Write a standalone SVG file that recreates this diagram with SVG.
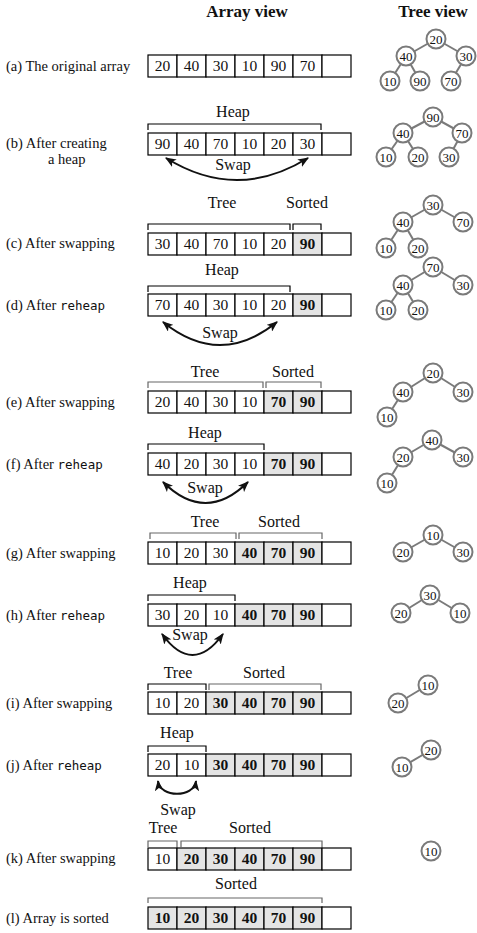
<svg xmlns="http://www.w3.org/2000/svg" width="477" height="933" viewBox="0 0 477 933" font-family="'Liberation Serif', 'DejaVu Serif', serif">
<style>
text{font-family:'Liberation Serif','DejaVu Serif',serif}
.bg{fill:#fff}
.cell{fill:#fff;stroke:#000;stroke-width:1.2}
.s{fill:#e4e4e4}
.v{font-size:15.5px;text-anchor:middle;fill:#111}
.b{font-weight:bold}
.lbl{font-size:14.5px;fill:#111}
.mono{font-family:'DejaVu Sans Mono',monospace;font-size:12.5px}
.hd{font-size:17px;font-weight:bold;text-anchor:middle;fill:#111}
.br{fill:none;stroke:#000;stroke-width:1.2}
.gb{stroke:#666}
.bt{font-size:16px;text-anchor:middle;fill:#111}
.edge{stroke:#7a7a7a;stroke-width:2}
.node circle{fill:#fff;stroke:#7a7a7a;stroke-width:2}
.node text{font-size:13px;text-anchor:middle;fill:#111}
.swap{fill:none;stroke:#111;stroke-width:2;marker-start:url(#ah);marker-end:url(#ah)}
</style>
<defs>
<marker id="ah" viewBox="0 0 10 8" refX="9" refY="4" markerWidth="11" markerHeight="9" markerUnits="userSpaceOnUse" orient="auto-start-reverse"><path d="M0,0 L10,4 L0,8 L2.5,4 z" fill="#111"/></marker>
</defs>
<rect class="bg" x="0" y="0" width="477" height="933"/>

<g id="headers">
<text class="hd" x="247" y="17">Array view</text>
<text class="hd" x="433" y="17">Tree view</text>
</g>

<!-- Row a -->
<g id="label-a"><text class="lbl" x="6" y="71">(a) The original array</text></g>
<g id="array-a">
<rect class="cell" x="148" y="55" width="29" height="22"/><rect class="cell" x="177" y="55" width="29" height="22"/><rect class="cell" x="206" y="55" width="29" height="22"/><rect class="cell" x="235" y="55" width="29" height="22"/><rect class="cell" x="264" y="55" width="29" height="22"/><rect class="cell" x="293" y="55" width="29" height="22"/><rect class="cell" x="322" y="55" width="29" height="22"/>
<text class="v" x="162.5" y="71">20</text><text class="v" x="191.5" y="71">40</text><text class="v" x="220.5" y="71">30</text><text class="v" x="249.5" y="71">10</text><text class="v" x="278.5" y="71">90</text><text class="v" x="307.5" y="71">70</text>
</g>

<!-- Row b -->
<g id="label-b"><text class="lbl" x="6" y="148">(b) After creating</text><text class="lbl" x="48" y="164">a heap</text></g>
<g id="bracket-b"><text class="bt" x="233" y="117">Heap</text><path class="br" d="M148,130 V124 H321 V130"/></g>
<g id="array-b">
<rect class="cell" x="148" y="133" width="29" height="22"/><rect class="cell" x="177" y="133" width="29" height="22"/><rect class="cell" x="206" y="133" width="29" height="22"/><rect class="cell" x="235" y="133" width="29" height="22"/><rect class="cell" x="264" y="133" width="29" height="22"/><rect class="cell" x="293" y="133" width="29" height="22"/><rect class="cell" x="322" y="133" width="29" height="22"/>
<text class="v" x="162.5" y="149">90</text><text class="v" x="191.5" y="149">40</text><text class="v" x="220.5" y="149">70</text><text class="v" x="249.5" y="149">10</text><text class="v" x="278.5" y="149">20</text><text class="v" x="307.5" y="149">30</text>
</g>
<g id="swaplabel-b"><text class="bt" x="233" y="170">Swap</text></g>

<!-- Row c -->
<g id="label-c"><text class="lbl" x="6" y="248">(c) After swapping</text></g>
<g id="bracket-c"><text class="bt" x="222" y="208">Tree</text><text class="bt" x="307" y="208">Sorted</text><path class="br" d="M148,230 V224 H290 V230"/><path class="br" d="M293,230 V224 H321 V230"/></g>
<g id="array-c">
<rect class="cell" x="148" y="233" width="29" height="22"/><rect class="cell" x="177" y="233" width="29" height="22"/><rect class="cell" x="206" y="233" width="29" height="22"/><rect class="cell" x="235" y="233" width="29" height="22"/><rect class="cell" x="264" y="233" width="29" height="22"/><rect class="cell s" x="293" y="233" width="29" height="22"/><rect class="cell" x="322" y="233" width="29" height="22"/>
<text class="v" x="162.5" y="249">30</text><text class="v" x="191.5" y="249">40</text><text class="v" x="220.5" y="249">70</text><text class="v" x="249.5" y="249">10</text><text class="v" x="278.5" y="249">20</text><text class="v b" x="307.5" y="249">90</text>
</g>

<!-- Row d -->
<g id="label-d"><text class="lbl" x="6" y="310">(d) After <tspan class="mono">reheap</tspan></text></g>
<g id="bracket-d"><text class="bt" x="222" y="275">Heap</text><path class="br" d="M148,292 V286 H290 V292"/></g>
<g id="array-d">
<rect class="cell" x="148" y="294" width="29" height="22"/><rect class="cell" x="177" y="294" width="29" height="22"/><rect class="cell" x="206" y="294" width="29" height="22"/><rect class="cell" x="235" y="294" width="29" height="22"/><rect class="cell" x="264" y="294" width="29" height="22"/><rect class="cell s" x="293" y="294" width="29" height="22"/><rect class="cell" x="322" y="294" width="29" height="22"/>
<text class="v" x="162.5" y="310">70</text><text class="v" x="191.5" y="310">40</text><text class="v" x="220.5" y="310">30</text><text class="v" x="249.5" y="310">10</text><text class="v" x="278.5" y="310">20</text><text class="v b" x="307.5" y="310">90</text>
</g>
<g id="swaplabel-d"><text class="bt" x="220" y="338">Swap</text></g>

<!-- Row e -->
<g id="label-e"><text class="lbl" x="6" y="407">(e) After swapping</text></g>
<g id="bracket-e"><text class="bt" x="205" y="377">Tree</text><text class="bt" x="293" y="377">Sorted</text><path class="br gb" d="M148,388 V382 H263 V388"/><path class="br gb" d="M266,388 V382 H321 V388"/></g>
<g id="array-e">
<rect class="cell" x="148" y="391" width="29" height="22"/><rect class="cell" x="177" y="391" width="29" height="22"/><rect class="cell" x="206" y="391" width="29" height="22"/><rect class="cell" x="235" y="391" width="29" height="22"/><rect class="cell s" x="264" y="391" width="29" height="22"/><rect class="cell s" x="293" y="391" width="29" height="22"/><rect class="cell" x="322" y="391" width="29" height="22"/>
<text class="v" x="162.5" y="407">20</text><text class="v" x="191.5" y="407">40</text><text class="v" x="220.5" y="407">30</text><text class="v" x="249.5" y="407">10</text><text class="v b" x="278.5" y="407">70</text><text class="v b" x="307.5" y="407">90</text>
</g>

<!-- Row f -->
<g id="label-f"><text class="lbl" x="6" y="469">(f) After <tspan class="mono">reheap</tspan></text></g>
<g id="bracket-f"><text class="bt" x="205" y="438">Heap</text><path class="br" d="M148,450 V444 H264 V450"/></g>
<g id="array-f">
<rect class="cell" x="148" y="453" width="29" height="22"/><rect class="cell" x="177" y="453" width="29" height="22"/><rect class="cell" x="206" y="453" width="29" height="22"/><rect class="cell" x="235" y="453" width="29" height="22"/><rect class="cell s" x="264" y="453" width="29" height="22"/><rect class="cell s" x="293" y="453" width="29" height="22"/><rect class="cell" x="322" y="453" width="29" height="22"/>
<text class="v" x="162.5" y="469">40</text><text class="v" x="191.5" y="469">20</text><text class="v" x="220.5" y="469">30</text><text class="v" x="249.5" y="469">10</text><text class="v b" x="278.5" y="469">70</text><text class="v b" x="307.5" y="469">90</text>
</g>
<g id="swaplabel-f"><text class="bt" x="205" y="493">Swap</text></g>

<!-- Row g -->
<g id="label-g"><text class="lbl" x="6" y="558">(g) After swapping</text></g>
<g id="bracket-g"><text class="bt" x="205" y="527">Tree</text><text class="bt" x="279" y="527">Sorted</text><path class="br gb" d="M150,539 V533 H236 V539"/><path class="br gb" d="M239,539 V533 H322 V539"/></g>
<g id="array-g">
<rect class="cell" x="148" y="542" width="29" height="22"/><rect class="cell" x="177" y="542" width="29" height="22"/><rect class="cell" x="206" y="542" width="29" height="22"/><rect class="cell s" x="235" y="542" width="29" height="22"/><rect class="cell s" x="264" y="542" width="29" height="22"/><rect class="cell s" x="293" y="542" width="29" height="22"/><rect class="cell" x="322" y="542" width="29" height="22"/>
<text class="v" x="162.5" y="558">10</text><text class="v" x="191.5" y="558">20</text><text class="v" x="220.5" y="558">30</text><text class="v b" x="249.5" y="558">40</text><text class="v b" x="278.5" y="558">70</text><text class="v b" x="307.5" y="558">90</text>
</g>

<!-- Row h -->
<g id="label-h"><text class="lbl" x="6" y="620">(h) After <tspan class="mono">reheap</tspan></text></g>
<g id="bracket-h"><text class="bt" x="190" y="588">Heap</text><path class="br" d="M148,601 V595 H235 V601"/></g>
<g id="array-h">
<rect class="cell" x="148" y="604" width="29" height="22"/><rect class="cell" x="177" y="604" width="29" height="22"/><rect class="cell" x="206" y="604" width="29" height="22"/><rect class="cell s" x="235" y="604" width="29" height="22"/><rect class="cell s" x="264" y="604" width="29" height="22"/><rect class="cell s" x="293" y="604" width="29" height="22"/><rect class="cell" x="322" y="604" width="29" height="22"/>
<text class="v" x="162.5" y="620">30</text><text class="v" x="191.5" y="620">20</text><text class="v" x="220.5" y="620">10</text><text class="v b" x="249.5" y="620">40</text><text class="v b" x="278.5" y="620">70</text><text class="v b" x="307.5" y="620">90</text>
</g>
<g id="swaplabel-h"><text class="bt" x="190" y="640">Swap</text></g>

<!-- Row i -->
<g id="label-i"><text class="lbl" x="6" y="708">(i) After swapping</text></g>
<g id="bracket-i"><text class="bt" x="178" y="678">Tree</text><text class="bt" x="264" y="678">Sorted</text><path class="br" d="M148,690 V684 H206 V690"/><path class="br gb" d="M209,690 V684 H321 V690"/></g>
<g id="array-i">
<rect class="cell" x="148" y="692" width="29" height="22"/><rect class="cell" x="177" y="692" width="29" height="22"/><rect class="cell s" x="206" y="692" width="29" height="22"/><rect class="cell s" x="235" y="692" width="29" height="22"/><rect class="cell s" x="264" y="692" width="29" height="22"/><rect class="cell s" x="293" y="692" width="29" height="22"/><rect class="cell" x="322" y="692" width="29" height="22"/>
<text class="v" x="162.5" y="708">10</text><text class="v" x="191.5" y="708">20</text><text class="v b" x="220.5" y="708">30</text><text class="v b" x="249.5" y="708">40</text><text class="v b" x="278.5" y="708">70</text><text class="v b" x="307.5" y="708">90</text>
</g>

<!-- Row j -->
<g id="label-j"><text class="lbl" x="6" y="770">(j) After <tspan class="mono">reheap</tspan></text></g>
<g id="bracket-j"><text class="bt" x="177" y="738">Heap</text><path class="br" d="M148,752 V746 H206 V752"/></g>
<g id="array-j">
<rect class="cell" x="148" y="754" width="29" height="22"/><rect class="cell" x="177" y="754" width="29" height="22"/><rect class="cell s" x="206" y="754" width="29" height="22"/><rect class="cell s" x="235" y="754" width="29" height="22"/><rect class="cell s" x="264" y="754" width="29" height="22"/><rect class="cell s" x="293" y="754" width="29" height="22"/><rect class="cell" x="322" y="754" width="29" height="22"/>
<text class="v" x="162.5" y="770">20</text><text class="v" x="191.5" y="770">10</text><text class="v b" x="220.5" y="770">30</text><text class="v b" x="249.5" y="770">40</text><text class="v b" x="278.5" y="770">70</text><text class="v b" x="307.5" y="770">90</text>
</g>
<g id="swaplabel-j"><text class="bt" x="178" y="815">Swap</text></g>

<!-- Row k -->
<g id="label-k"><text class="lbl" x="6" y="863">(k) After swapping</text></g>
<g id="bracket-k"><text class="bt" x="163" y="833">Tree</text><text class="bt" x="250" y="833">Sorted</text><path class="br gb" d="M148,847 V841 H177 V847"/><path class="br gb" d="M181,847 V841 H322 V847"/></g>
<g id="array-k">
<rect class="cell" x="148" y="848" width="29" height="22"/><rect class="cell s" x="177" y="848" width="29" height="22"/><rect class="cell s" x="206" y="848" width="29" height="22"/><rect class="cell s" x="235" y="848" width="29" height="22"/><rect class="cell s" x="264" y="848" width="29" height="22"/><rect class="cell s" x="293" y="848" width="29" height="22"/><rect class="cell" x="322" y="848" width="29" height="22"/>
<text class="v" x="162.5" y="864">10</text><text class="v b" x="191.5" y="864">20</text><text class="v b" x="220.5" y="864">30</text><text class="v b" x="249.5" y="864">40</text><text class="v b" x="278.5" y="864">70</text><text class="v b" x="307.5" y="864">90</text>
</g>

<!-- Row l -->
<g id="label-l"><text class="lbl" x="6" y="923">(l) Array is sorted</text></g>
<g id="bracket-l"><text class="bt" x="236" y="889">Sorted</text><path class="br gb" d="M148,903 V898 H322 V903"/></g>
<g id="array-l">
<rect class="cell s" x="148" y="907" width="29" height="22"/><rect class="cell s" x="177" y="907" width="29" height="22"/><rect class="cell s" x="206" y="907" width="29" height="22"/><rect class="cell s" x="235" y="907" width="29" height="22"/><rect class="cell s" x="264" y="907" width="29" height="22"/><rect class="cell s" x="293" y="907" width="29" height="22"/><rect class="cell" x="322" y="907" width="29" height="22"/>
<text class="v b" x="162.5" y="923">10</text><text class="v b" x="191.5" y="923">20</text><text class="v b" x="220.5" y="923">30</text><text class="v b" x="249.5" y="923">40</text><text class="v b" x="278.5" y="923">70</text><text class="v b" x="307.5" y="923">90</text>
</g>

<!-- Connectors -->
<g id="connectors">
<path class="swap" d="M166,158 Q237,202 308,158"/>
<path class="swap" d="M163,322 Q220,368 277,322"/>
<path class="swap" d="M163,482 Q205.5,524 248,482"/>
<path class="swap" d="M162,634 Q192.5,676 223,634"/>
<path class="swap" d="M158,781 C160,798 194,798 196,781"/>
<line class="edge" x1="436" y1="39" x2="406" y2="56"/><line class="edge" x1="436" y1="39" x2="466" y2="56"/><line class="edge" x1="406" y1="56" x2="390" y2="81"/><line class="edge" x1="406" y1="56" x2="420" y2="81"/><line class="edge" x1="466" y1="56" x2="451" y2="81"/>
<line class="edge" x1="433" y1="117" x2="403" y2="133"/><line class="edge" x1="433" y1="117" x2="462" y2="133"/><line class="edge" x1="403" y1="133" x2="386" y2="157"/><line class="edge" x1="403" y1="133" x2="418" y2="157"/><line class="edge" x1="462" y1="133" x2="449" y2="157"/>
<line class="edge" x1="433" y1="205" x2="403" y2="222"/><line class="edge" x1="433" y1="205" x2="463" y2="222"/><line class="edge" x1="403" y1="222" x2="386" y2="248"/><line class="edge" x1="403" y1="222" x2="418" y2="248"/>
<line class="edge" x1="433" y1="267" x2="403" y2="285"/><line class="edge" x1="433" y1="267" x2="463" y2="285"/><line class="edge" x1="403" y1="285" x2="386" y2="310"/><line class="edge" x1="403" y1="285" x2="418" y2="310"/>
<line class="edge" x1="433" y1="373" x2="403" y2="392"/><line class="edge" x1="433" y1="373" x2="463" y2="392"/><line class="edge" x1="403" y1="392" x2="387" y2="417"/>
<line class="edge" x1="432" y1="440" x2="403" y2="457"/><line class="edge" x1="432" y1="440" x2="463" y2="457"/><line class="edge" x1="403" y1="457" x2="387" y2="483"/>
<line class="edge" x1="433" y1="535" x2="403" y2="552"/><line class="edge" x1="433" y1="535" x2="463" y2="552"/>
<line class="edge" x1="430" y1="595" x2="401" y2="613"/><line class="edge" x1="430" y1="595" x2="460" y2="613"/>
<line class="edge" x1="428" y1="685" x2="398" y2="703"/>
<line class="edge" x1="431" y1="750" x2="402" y2="767"/>
</g>

<!-- Tree nodes -->
<g id="ta-20" class="node"><circle cx="436" cy="39" r="9.5"/><text x="436" y="43.5">20</text></g>
<g id="ta-40" class="node"><circle cx="406" cy="56" r="9.5"/><text x="406" y="60.5">40</text></g>
<g id="ta-30" class="node"><circle cx="466" cy="56" r="9.5"/><text x="466" y="60.5">30</text></g>
<g id="ta-10" class="node"><circle cx="390" cy="81" r="9.5"/><text x="390" y="85.5">10</text></g>
<g id="ta-90" class="node"><circle cx="420" cy="81" r="9.5"/><text x="420" y="85.5">90</text></g>
<g id="ta-70" class="node"><circle cx="451" cy="81" r="9.5"/><text x="451" y="85.5">70</text></g>

<g id="tb-90" class="node"><circle cx="433" cy="117" r="9.5"/><text x="433" y="121.5">90</text></g>
<g id="tb-40" class="node"><circle cx="403" cy="133" r="9.5"/><text x="403" y="137.5">40</text></g>
<g id="tb-70" class="node"><circle cx="462" cy="133" r="9.5"/><text x="462" y="137.5">70</text></g>
<g id="tb-10" class="node"><circle cx="386" cy="157" r="9.5"/><text x="386" y="161.5">10</text></g>
<g id="tb-20" class="node"><circle cx="418" cy="157" r="9.5"/><text x="418" y="161.5">20</text></g>
<g id="tb-30" class="node"><circle cx="449" cy="157" r="9.5"/><text x="449" y="161.5">30</text></g>

<g id="tc-30" class="node"><circle cx="433" cy="205" r="9.5"/><text x="433" y="209.5">30</text></g>
<g id="tc-40" class="node"><circle cx="403" cy="222" r="9.5"/><text x="403" y="226.5">40</text></g>
<g id="tc-70" class="node"><circle cx="463" cy="222" r="9.5"/><text x="463" y="226.5">70</text></g>
<g id="tc-10" class="node"><circle cx="386" cy="248" r="9.5"/><text x="386" y="252.5">10</text></g>
<g id="tc-20" class="node"><circle cx="418" cy="248" r="9.5"/><text x="418" y="252.5">20</text></g>

<g id="td-70" class="node"><circle cx="433" cy="267" r="9.5"/><text x="433" y="271.5">70</text></g>
<g id="td-40" class="node"><circle cx="403" cy="285" r="9.5"/><text x="403" y="289.5">40</text></g>
<g id="td-30" class="node"><circle cx="463" cy="285" r="9.5"/><text x="463" y="289.5">30</text></g>
<g id="td-10" class="node"><circle cx="386" cy="310" r="9.5"/><text x="386" y="314.5">10</text></g>
<g id="td-20" class="node"><circle cx="418" cy="310" r="9.5"/><text x="418" y="314.5">20</text></g>

<g id="te-20" class="node"><circle cx="433" cy="373" r="9.5"/><text x="433" y="377.5">20</text></g>
<g id="te-40" class="node"><circle cx="403" cy="392" r="9.5"/><text x="403" y="396.5">40</text></g>
<g id="te-30" class="node"><circle cx="463" cy="392" r="9.5"/><text x="463" y="396.5">30</text></g>
<g id="te-10" class="node"><circle cx="387" cy="417" r="9.5"/><text x="387" y="421.5">10</text></g>

<g id="tf-40" class="node"><circle cx="432" cy="440" r="9.5"/><text x="432" y="444.5">40</text></g>
<g id="tf-20" class="node"><circle cx="403" cy="457" r="9.5"/><text x="403" y="461.5">20</text></g>
<g id="tf-30" class="node"><circle cx="463" cy="457" r="9.5"/><text x="463" y="461.5">30</text></g>
<g id="tf-10" class="node"><circle cx="387" cy="483" r="9.5"/><text x="387" y="487.5">10</text></g>

<g id="tg-10" class="node"><circle cx="433" cy="535" r="9.5"/><text x="433" y="539.5">10</text></g>
<g id="tg-20" class="node"><circle cx="403" cy="552" r="9.5"/><text x="403" y="556.5">20</text></g>
<g id="tg-30" class="node"><circle cx="463" cy="552" r="9.5"/><text x="463" y="556.5">30</text></g>

<g id="th-30" class="node"><circle cx="430" cy="595" r="9.5"/><text x="430" y="599.5">30</text></g>
<g id="th-20" class="node"><circle cx="401" cy="613" r="9.5"/><text x="401" y="617.5">20</text></g>
<g id="th-10" class="node"><circle cx="460" cy="613" r="9.5"/><text x="460" y="617.5">10</text></g>

<g id="ti-10" class="node"><circle cx="428" cy="685" r="9.5"/><text x="428" y="689.5">10</text></g>
<g id="ti-20" class="node"><circle cx="398" cy="703" r="9.5"/><text x="398" y="707.5">20</text></g>

<g id="tj-20" class="node"><circle cx="431" cy="750" r="9.5"/><text x="431" y="754.5">20</text></g>
<g id="tj-10" class="node"><circle cx="402" cy="767" r="9.5"/><text x="402" y="771.5">10</text></g>

<g id="tk-10" class="node"><circle cx="431" cy="851" r="9.5"/><text x="431" y="855.5">10</text></g>
</svg>
